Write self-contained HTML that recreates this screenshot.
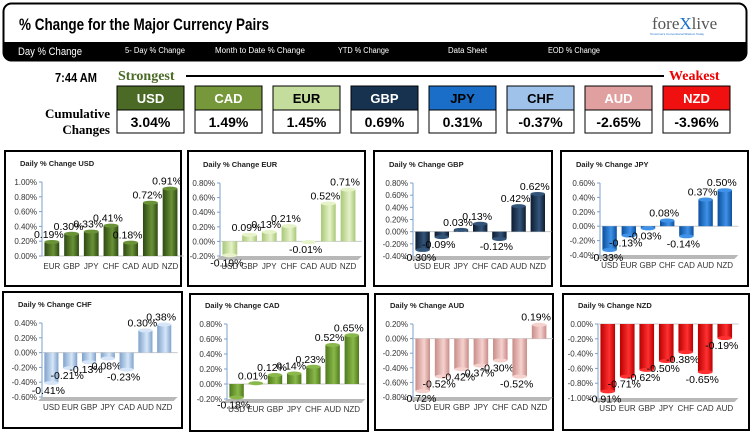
<!DOCTYPE html>
<html><head><meta charset="utf-8"><style>
body{margin:0;width:750px;height:432px;background:#fff;overflow:hidden;font-family:"Liberation Sans",sans-serif}
svg{display:block}
</style></head><body>
<svg id="s" width="750" height="432" viewBox="0 0 750 432">
<g>
<rect x="3.5" y="3.5" width="743" height="57" rx="8" fill="#fff" stroke="#000" stroke-width="2"/>
<path d="M3.5 42 H746.5 V52.5 Q746.5 60.5 738.5 60.5 H11.5 Q3.5 60.5 3.5 52.5 Z" fill="#000"/>
<text x="19" y="30" font-weight="bold" font-size="17" textLength="250" lengthAdjust="spacingAndGlyphs">% Change for the Major Currency Pairs</text>
<text x="652" y="29" font-family="'Liberation Serif',serif" font-size="17" fill="#555">fore<tspan fill="#1a6ec8">X</tspan>live</text>
<text x="650" y="35" font-size="3" fill="#1a6ec8">Tomorrow's Conventional Wisdom Today</text>
<g fill="#fff">
<text x="18" y="55" font-size="11" textLength="64" lengthAdjust="spacingAndGlyphs">Day % Change</text>
<text x="125" y="53" font-size="8" textLength="60" lengthAdjust="spacingAndGlyphs">5- Day % Change</text>
<text x="215" y="53" font-size="8" textLength="90" lengthAdjust="spacingAndGlyphs">Month to Date % Change</text>
<text x="338" y="53" font-size="8" textLength="51" lengthAdjust="spacingAndGlyphs">YTD % Change</text>
<text x="448" y="53" font-size="8" textLength="39" lengthAdjust="spacingAndGlyphs">Data Sheet</text>
<text x="548" y="53" font-size="8" textLength="52" lengthAdjust="spacingAndGlyphs">EOD % Change</text>
</g>
</g>
<g>
<text x="55" y="82" font-weight="bold" font-size="13" textLength="42" lengthAdjust="spacingAndGlyphs">7:44 AM</text>
<text x="118" y="80" font-family="'Liberation Serif',serif" font-weight="bold" font-size="14" fill="#4a6a25">Strongest</text>
<line x1="186" y1="76" x2="664" y2="76" stroke="#000" stroke-width="2"/>
<text x="669" y="80" font-family="'Liberation Serif',serif" font-weight="bold" font-size="14" fill="#e00">Weakest</text>
<text x="110" y="118" text-anchor="end" font-family="'Liberation Serif',serif" font-weight="bold" font-size="13">Cumulative</text>
<text x="110" y="134" text-anchor="end" font-family="'Liberation Serif',serif" font-weight="bold" font-size="13">Changes</text>
<g id="boxes"></g>
</g>
<g id="charts"></g>
</svg>
<script>
var boxCurrencies=["USD","CAD","EUR","GBP","JPY","CHF","AUD","NZD"];
var boxValues=["3.04%","1.49%","1.45%","0.69%","0.31%","-0.37%","-2.65%","-3.96%"];
var boxColors=["#4a6a25","#76983a","#c4dc9c","#17324f","#1a6ec8","#9ec2ea","#e0a0a0","#f01010"];
var boxText=["#fff","#fff","#000","#fff","#000","#000","#fff","#fff"];

var usdCats=["EUR","GBP","JPY","CHF","CAD","AUD","NZD"];
var usdVals=[0.19,0.30,0.33,0.41,0.18,0.72,0.91];
var eurCats=["USD","GBP","JPY","CHF","CAD","AUD","NZD"];
var eurVals=[-0.19,0.09,0.13,0.21,-0.01,0.52,0.71];
var gbpCats=["USD","EUR","JPY","CHF","CAD","AUD","NZD"];
var gbpVals=[-0.30,-0.09,0.03,0.13,-0.12,0.42,0.62];
var jpyCats=["USD","EUR","GBP","CHF","CAD","AUD","NZD"];
var jpyVals=[-0.33,-0.13,-0.03,0.08,-0.14,0.37,0.50];
var chfCats=["USD","EUR","GBP","JPY","CAD","AUD","NZD"];
var chfVals=[-0.41,-0.21,-0.13,-0.08,-0.23,0.30,0.38];
var cadCats=["USD","EUR","GBP","JPY","CHF","AUD","NZD"];
var cadVals=[-0.18,0.01,0.12,0.14,0.23,0.52,0.65];
var audCats=["USD","EUR","GBP","JPY","CHF","CAD","NZD"];
var audVals=[-0.72,-0.52,-0.42,-0.37,-0.30,-0.52,0.19];
var nzdCats=["USD","EUR","GBP","JPY","CHF","CAD","AUD"];
var nzdVals=[-0.91,-0.71,-0.62,-0.50,-0.38,-0.65,-0.19];

var NS="http://www.w3.org/2000/svg";
function mk(tag,attrs,parent){var e=document.createElementNS(NS,tag);for(var k in attrs)e.setAttribute(k,attrs[k]);if(parent)parent.appendChild(e);return e;}

var bx=document.getElementById('boxes');
boxCurrencies.forEach(function(c,i){
  var x=117+i*78;
  var g=mk('g',{},bx);
  
  
  mk('rect',{x:x,y:86,width:67,height:24,fill:boxColors[i],stroke:'#000','stroke-width':1},g);
  mk('rect',{x:x,y:110,width:67,height:23,fill:'#fff',stroke:'#000','stroke-width':1},g);
  var t=mk('text',{x:x+33.5,y:103,'text-anchor':'middle','font-weight':'bold','font-size':13,fill:boxText[i]},g);
  t.textContent=c;
  var v=mk('text',{x:x+33.5,y:127,'text-anchor':'middle','font-weight':'bold','font-size':14,fill:'#000'},g);
  v.textContent=boxValues[i];
});

var charts=[
 {name:'usd',title:'Daily % Change USD',cats:usdCats,vals:usdVals,min:0,max:1.0,px:5,py:151,pw:176,ph:135,left:42,step:19.7,top:182,bot:256,c1:'#2e4a14',c2:'#6a9236'},
 {name:'eur',title:'Daily % Change EUR',cats:eurCats,vals:eurVals,min:-0.2,max:0.8,px:188,py:151,pw:177,ph:135,left:220,step:19.7,top:183,bot:256,c1:'#a8c878',c2:'#e6f2c8'},
 {name:'gbp',title:'Daily % Change GBP',cats:gbpCats,vals:gbpVals,min:-0.4,max:0.8,px:374,py:151,pw:178,ph:135,left:413,step:19.2,top:183,bot:256,c1:'#0c1c30',c2:'#34557a'},
 {name:'jpy',title:'Daily % Change JPY',cats:jpyCats,vals:jpyVals,min:-0.4,max:0.6,px:561,py:151,pw:187,ph:135,left:600,step:19.2,top:183,bot:255,c1:'#0c4f9c',c2:'#3f92e8'},
 {name:'chf',title:'Daily % Change CHF',cats:chfCats,vals:chfVals,min:-0.6,max:0.4,px:3,py:292,pw:179,ph:136,left:42,step:18.8,top:323,bot:397,c1:'#7fa2cc',c2:'#d6e6f8'},
 {name:'cad',title:'Daily % Change CAD',cats:cadCats,vals:cadVals,min:-0.2,max:0.8,px:190,py:294,pw:178,ph:137,left:227,step:19.2,top:324,bot:399,c1:'#4f7a1c',c2:'#8ab84a'},
 {name:'aud',title:'Daily % Change AUD',cats:audCats,vals:audVals,min:-0.8,max:0.2,px:375,py:294,pw:178,ph:136,left:413,step:19.4,top:324,bot:397,c1:'#c88c88',c2:'#f6d2cf'},
 {name:'nzd',title:'Daily % Change NZD',cats:nzdCats,vals:nzdVals,min:-1.0,max:0,px:563,py:294,pw:186,ph:136,left:598,step:19.5,top:324,bot:398,c1:'#b80000',c2:'#ff3030'}
];
var root=document.getElementById('charts');
var defs=mk('defs',{},document.getElementById('s'));
charts.forEach(function(c){
  var gr=mk('linearGradient',{id:'g'+c.name,x1:0,x2:1,y1:0,y2:0},defs);
  mk('stop',{offset:'0',  'stop-color':c.c1},gr);
  mk('stop',{offset:'0.6','stop-color':c.c2},gr);
  mk('stop',{offset:'1',  'stop-color':c.c1},gr);
  var g=mk('g',{},root);
  
  
  mk('rect',{x:c.px,y:c.py,width:c.pw,height:c.ph,fill:'#fff',stroke:'#000','stroke-width':2},g);
  var t=mk('text',{x:c.px+15,y:c.top-16,'font-size':7.5,'font-weight':'bold',fill:'#222'},g);
  
  
  t.textContent=c.title;
  function y(v){return c.bot-(v-c.min)/(c.max-c.min)*(c.bot-c.top);}
  var right=c.left+c.step*c.cats.length;
  if(c.min<0){mk('path',{d:'M'+c.left+' '+(c.bot)+' L'+(right+4)+' '+c.bot+' L'+(right)+' '+(c.bot+4)+' L'+(c.left-4)+' '+(c.bot+4)+'Z',fill:'#b8b8b8'},g);}
  for(var v=c.min;v<=c.max+1e-9;v+=0.2){
    var yy=y(v);
    var tl=mk('text',{x:c.left-5,y:yy+3,'text-anchor':'end','font-size':8,fill:'#333'},g);
    
    
    tl.textContent=v.toFixed(2).replace('-0.00','0.00')+'%';
    mk('line',{x1:c.left-3,x2:c.left,y1:yy,y2:yy,stroke:'#7ba0cc','stroke-width':1},g);
  }
  mk('line',{x1:c.left,x2:c.left,y1:c.top,y2:c.bot,stroke:'#7ba0cc','stroke-width':1},g);
  var z=y(0);
  mk('line',{x1:c.left,x2:right+4,y1:z,y2:z,stroke:'#c8c8c8','stroke-width':1},g);
  c.cats.forEach(function(cat,i){
    var cx=c.left+c.step*(i+0.5);
    var val=c.vals[i], yv=y(val), bw=c.step*0.75;
    var b=mk('rect',{x:cx-bw/2,y:Math.min(yv,z),width:bw,height:Math.max(Math.abs(z-yv),1),fill:'url(#g'+c.name+')'},g);
    
    
    mk('ellipse',{cx:cx,cy:yv,rx:bw/2,ry:2,fill:c.c2},g);
    var cl=mk('text',{x:cx,y:c.bot+13,'text-anchor':'middle','font-size':8,fill:'#333'},g);
    
    
    cl.textContent=cat;
    var vl=mk('text',{x:cx-3,y:val>=0?yv-4:yv+11,'text-anchor':'middle','font-size':10.5,fill:'#000'},g);
    
    
    vl.textContent=val.toFixed(2)+'%';
  });
});
</script>
</body></html>
